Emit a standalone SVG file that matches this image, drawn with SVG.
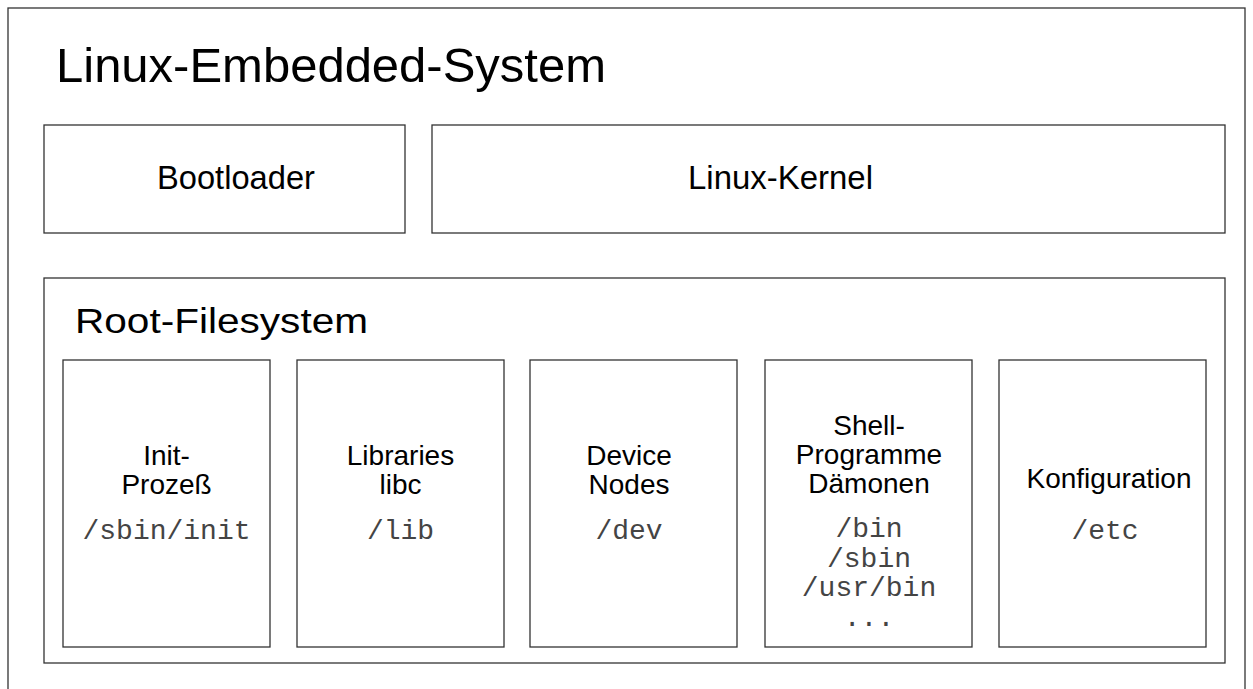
<svg xmlns="http://www.w3.org/2000/svg" width="1253" height="689" viewBox="0 0 1253 689">
<style>
rect{fill:#fff;stroke:#333;stroke-width:1.3}
.s{font-family:"Liberation Sans",Arial,sans-serif;fill:#000}
.c{font-family:"Liberation Sans",Arial,sans-serif;fill:#000;font-size:28px;text-anchor:middle}
.m{font-family:"Liberation Mono","Courier New",monospace;fill:#444;font-size:28px;text-anchor:middle}
</style>
<g id="system">
<rect x="8" y="8" width="1237" height="700"/>
<text class="s" x="56" y="82" font-size="49" textLength="550" lengthAdjust="spacingAndGlyphs">Linux-Embedded-System</text>
</g>
<g id="bootloader">
<rect x="44" y="125" width="361" height="108"/>
<text class="s" x="157" y="189" font-size="32.5" textLength="158" lengthAdjust="spacingAndGlyphs">Bootloader</text>
</g>
<g id="kernel">
<rect x="432" y="125" width="793" height="108"/>
<text class="s" x="688" y="189" font-size="33" textLength="185" lengthAdjust="spacingAndGlyphs">Linux-Kernel</text>
</g>
<g id="rootfs">
<rect x="44" y="278" width="1181" height="385"/>
<text class="s" x="75" y="333" font-size="35" textLength="293" lengthAdjust="spacingAndGlyphs">Root-Filesystem</text>
</g>
<g id="init">
<rect x="63" y="360" width="207" height="287"/>
<text class="c" x="166.5" y="465">Init-</text>
<text class="c" x="166.5" y="494">Prozeß</text>
<text class="m" x="166.5" y="539">/sbin/init</text>
</g>
<g id="libraries">
<rect x="297" y="360" width="207" height="287"/>
<text class="c" x="400.5" y="465">Libraries</text>
<text class="c" x="400.5" y="494">libc</text>
<text class="m" x="400.5" y="539">/lib</text>
</g>
<g id="devices">
<rect x="530" y="360" width="207" height="287"/>
<text class="c" x="629" y="465">Device</text>
<text class="c" x="629" y="494">Nodes</text>
<text class="m" x="629" y="539">/dev</text>
</g>
<g id="programs">
<rect x="765" y="360" width="207" height="287"/>
<text class="c" x="869" y="435">Shell-</text>
<text class="c" x="869" y="464">Programme</text>
<text class="c" x="869" y="493">Dämonen</text>
<text class="m" x="869" y="537">/bin</text>
<text class="m" x="869" y="567">/sbin</text>
<text class="m" x="869" y="596">/usr/bin</text>
<text class="m" x="869" y="626">...</text>
</g>
<g id="config">
<rect x="999" y="360" width="207" height="287"/>
<text class="c" x="1109" y="488">Konfiguration</text>
<text class="m" x="1105" y="539">/etc</text>
</g>
<g id="connectors"/>
</svg>
